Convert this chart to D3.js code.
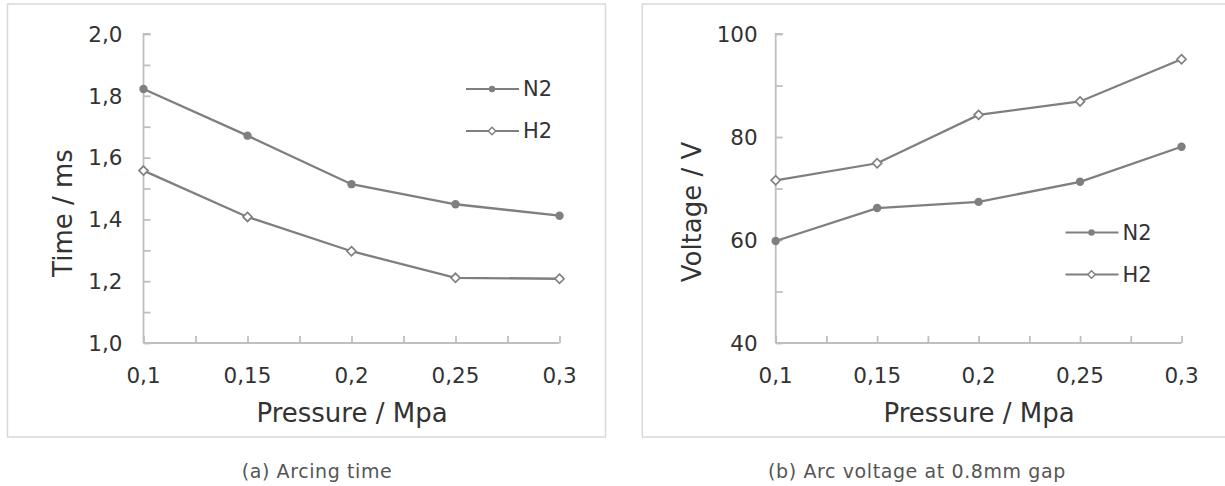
<!DOCTYPE html>
<html lang="en">
<head>
    <meta charset="UTF-8">
    <title>Arcing time and arc voltage vs pressure</title>
    <script src="https://d3js.org/d3.v7.min.js"></script>
    <style>
        body { margin: 0; background: #fff; font-family: "DejaVu Sans", sans-serif; }
        svg text { fill: #333; }
    </style>
</head>
<body>
    <script>
        // Data
        const pressure = [0.1, 0.15, 0.2, 0.25, 0.3];
        const xTickLabels = ["0,1", "0,15", "0,2", "0,25", "0,3"];

        const timeN2 = [1.822, 1.671, 1.514, 1.449, 1.412];
        const timeH2 = [1.558, 1.408, 1.297, 1.211, 1.208];
        const timeTicks = [1.0, 1.2, 1.4, 1.6, 1.8, 2.0];
        const timeTickLabels = ["1,0", "1,2", "1,4", "1,6", "1,8", "2,0"];

        const voltN2 = [59.8, 66.2, 67.4, 71.3, 78.1];
        const voltH2 = [71.6, 74.9, 84.3, 86.9, 95.1];
        const voltTicks = [40, 60, 80, 100];
        const voltTickLabels = ["40", "60", "80", "100"];

        const seriesNames = ["N2", "H2"];

        const lineColor = "#7f7f7f";
        const axisColor = "#bfbfbf";

        const svg = d3.select("body").append("svg")
            .attr("width", 1225)
            .attr("height", 486);

        // one panel = framed box + axes + two series + legend + caption
        function drawPanel(cfg) {
            const g = svg.append("g");

            g.append("rect")
                .attr("x", cfg.box[0]).attr("y", 4)
                .attr("width", cfg.box[1] - cfg.box[0]).attr("height", 433)
                .attr("fill", "none")
                .attr("stroke", "#d9d9d9")
                .attr("stroke-width", 1.5);

            const x = d3.scaleLinear().domain([0.1, 0.3]).range(cfg.xRange);
            const y = d3.scaleLinear().domain(cfg.yDomain).range([343, 34]);

            // y axis, ticks pointing inwards
            const yMinor = d3.range(cfg.yDomain[0], cfg.yDomain[1] + 1e-9, cfg.yMinorStep);
            const yAxis = d3.axisRight(y).tickValues(yMinor).tickSize(7).tickFormat("");
            g.append("g")
                .attr("transform", `translate(${cfg.xRange[0]},0)`)
                .call(yAxis)
                .call(a => a.select(".domain").attr("d", `M7,34H0V343`))
                .call(a => a.selectAll("path, line").attr("stroke", axisColor).attr("stroke-width", 1.8));

            // x axis, ticks pointing up
            const xMinor = d3.range(0, 9).map(i => 0.1 + i * 0.025);
            const xAxis = d3.axisTop(x).tickValues(xMinor).tickSize(7).tickFormat("");
            g.append("g")
                .attr("transform", "translate(0,343)")
                .call(xAxis)
                .call(a => a.select(".domain").attr("d", `M${cfg.xRange[0]},0H${cfg.xRange[1]}`))
                .call(a => a.selectAll("path, line").attr("stroke", axisColor).attr("stroke-width", 1.8));

            // tick labels
            g.selectAll(".ylab").data(cfg.yTicks).join("text")
                .attr("x", cfg.xRange[0] - cfg.yLabelGap)
                .attr("y", d => y(d) + 7.8)
                .attr("text-anchor", "end")
                .style("font-size", "21.5px")
                .text((d, i) => cfg.yTickLabels[i]);

            g.selectAll(".xlab").data(pressure).join("text")
                .attr("x", d => x(d))
                .attr("y", 382.7)
                .attr("text-anchor", "middle")
                .style("font-size", "21.5px")
                .text((d, i) => xTickLabels[i]);

            // axis titles
            g.append("text")
                .attr("x", (cfg.xRange[0] + cfg.xRange[1]) / 2 + 0.5)
                .attr("y", 421.7)
                .attr("text-anchor", "middle")
                .style("font-size", "26px")
                .text("Pressure / Mpa");

            g.append("text")
                .attr("transform", `translate(${cfg.yTitleX},${cfg.yTitleY}) rotate(-90)`)
                .attr("text-anchor", "middle")
                .style("font-size", "26px")
                .text(cfg.yTitle);

            const line = d3.line().x((d, i) => x(pressure[i])).y(d => y(d));

            // N2 line + dots
            g.append("path").datum(cfg.n2)
                .attr("d", line)
                .attr("fill", "none")
                .attr("stroke", lineColor)
                .attr("stroke-width", 2.3);
            g.selectAll(".n2dot").data(cfg.n2).join("circle")
                .attr("cx", (d, i) => x(pressure[i]))
                .attr("cy", d => y(d))
                .attr("r", 4.2)
                .attr("fill", lineColor);

            // H2 line + hollow diamonds
            g.append("path").datum(cfg.h2)
                .attr("d", line)
                .attr("fill", "none")
                .attr("stroke", lineColor)
                .attr("stroke-width", 2.3);
            const diamond = d3.symbol().type(d3.symbolDiamond2).size(52);
            g.selectAll(".h2dot").data(cfg.h2).join("path")
                .attr("d", diamond)
                .attr("transform", (d, i) => `translate(${x(pressure[i])},${y(d)})`)
                .attr("fill", "#fff")
                .attr("stroke", lineColor)
                .attr("stroke-width", 1.7);

            // legend
            const lg = g.append("g").attr("transform", `translate(${cfg.legend[0]},${cfg.legend[1]})`);
            seriesNames.forEach((name, i) => {
                const ly = i * 42;
                lg.append("line")
                    .attr("x1", 0).attr("x2", 53)
                    .attr("y1", ly).attr("y2", ly)
                    .attr("stroke", lineColor)
                    .attr("stroke-width", 2);
                if (i === 0) {
                    lg.append("circle").attr("cx", 26).attr("cy", ly).attr("r", 3.2).attr("fill", lineColor);
                } else {
                    lg.append("path")
                        .attr("d", d3.symbol().type(d3.symbolDiamond2).size(36))
                        .attr("transform", `translate(26,${ly})`)
                        .attr("fill", "#fff")
                        .attr("stroke", lineColor)
                        .attr("stroke-width", 1.4);
                }
                lg.append("text")
                    .attr("x", 57).attr("y", ly + 7.3)
                    .style("font-size", "21px")
                    .text(name);
            });

            // caption below the frame
            svg.append("text")
                .attr("x", cfg.captionX)
                .attr("y", 478)
                .attr("text-anchor", "middle")
                .style("font-size", "19px")
                .style("letter-spacing", "0.6px")
                .style("fill", "#555")
                .text(cfg.caption);
        }

        drawPanel({
            box: [7.5, 605.5],
            xRange: [143.5, 559.5],
            yDomain: [1.0, 2.0],
            yMinorStep: 0.1,
            yTicks: timeTicks,
            yTickLabels: timeTickLabels,
            yLabelGap: 21,
            yTitle: "Time / ms",
            yTitleX: 72,
            yTitleY: 213,
            n2: timeN2,
            h2: timeH2,
            legend: [466, 89],
            caption: "(a) Arcing time",
            captionX: 317
        });

        drawPanel({
            box: [642.3, 1226],
            xRange: [775.7, 1181.5],
            yDomain: [40, 100],
            yMinorStep: 10,
            yTicks: voltTicks,
            yTickLabels: voltTickLabels,
            yLabelGap: 18,
            yTitle: "Voltage / V",
            yTitleX: 701,
            yTitleY: 212,
            n2: voltN2,
            h2: voltH2,
            legend: [1065.5, 232.5],
            caption: "(b) Arc voltage at 0.8mm gap",
            captionX: 917
        });
    </script>
</body>
</html>
